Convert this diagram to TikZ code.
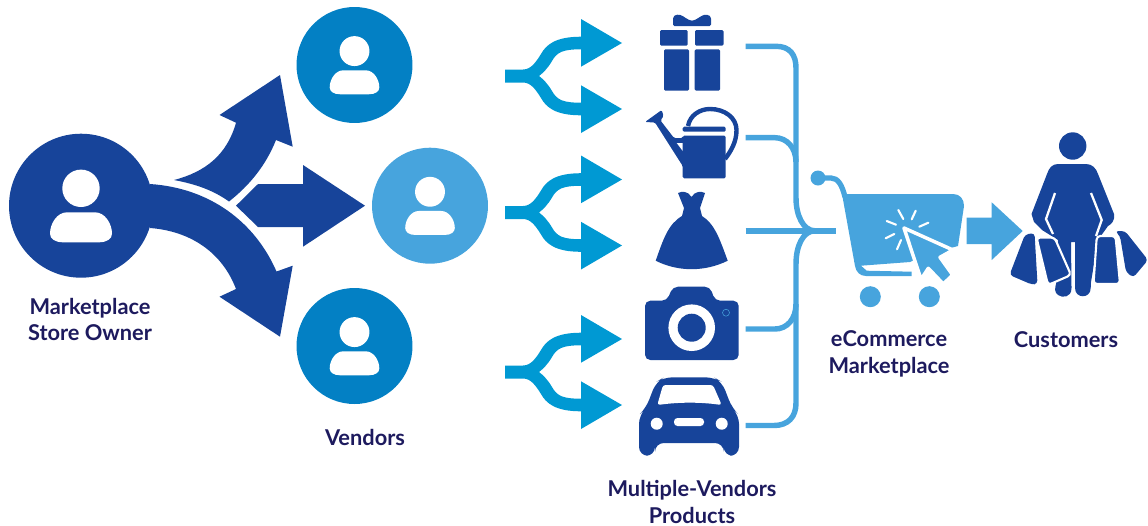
\documentclass[tikz,border=0pt]{standalone}
\usepackage{fontspec}
\setmainfont{Lato}[BoldFont=* Bold]
\usepackage{tikz}
\definecolor{ownerblue}{HTML}{17449A}
\definecolor{vendorblue}{HTML}{0380C4}
\definecolor{skyblue}{HTML}{47A4DD}
\definecolor{forkblue}{HTML}{0099D3}
\definecolor{labelblue}{HTML}{1D1A5E}
\begin{document}
\begin{tikzpicture}[x=0.02cm,y=-0.02cm,
	owner/.style={circle, fill=ownerblue, inner sep=0pt, minimum size=2.88cm},
	vendor/.style={circle, fill=vendorblue, inner sep=0pt, minimum size=2.32cm},
	label/.style={text=labelblue, font=\bfseries\fontsize{12.4}{15.3}\selectfont, align=center, inner sep=0pt},
	bracket/.style={draw=skyblue, line width=3.1pt},
	icon/.style={fill=ownerblue, rounded corners=0.8pt},
	person/.pic={
		\fill[white] (0,-17.4) circle (18.7);
		\fill[white] (-14,6.6) -- (14,6.6) .. controls (24,6.6) and (31,18) .. (31,28) .. controls (31,33) and (26,36.6) .. (18,36.6) -- (-18,36.6) .. controls (-26,36.6) and (-31,33) .. (-31,28) .. controls (-31,18) and (-24,6.6) .. (-14,6.6) -- cycle;
	},
	fork/.pic={
		\fill[forkblue] (0,-6.5) -- (18,-6.5) .. controls (26,-6.5) and (31,-14) .. (36,-22) .. controls (41,-31) and (50,-39.3) .. (76,-39.3) -- (76,-57) -- (117,-33) -- (76,-9.3) -- (76,-26.7) .. controls (58,-26.7) and (52,-24) .. (47,-15) .. controls (43,-8) and (38,-3) .. (34,0) .. controls (38,3) and (43,8) .. (47,15) .. controls (52,24) and (58,26.7) .. (76,26.7) -- (76,9.3) -- (117,33) -- (76,57) -- (76,39.3) .. controls (50,39.3) and (41,31) .. (36,22) .. controls (31,14) and (26,6.5) .. (18,6.5) -- (0,6.5) -- cycle;
	}]
	\useasboundingbox (0,0) rectangle (1148,525);

	\node (o) at (81,205.7) [owner] {};
	\node (v1) at (354.5,65) [vendor] {};
	\node (v2) at (430,205.7) [vendor, fill=skyblue] {};
	\node (v3) at (354.5,346) [vendor] {};
	\pic at (81,205.7) {person};
	\pic[scale=0.8] at (354.5,65) {person};
	\pic[scale=0.8] at (430,205.7) {person};
	\pic[scale=0.8] at (354.5,346) {person};

	\fill[ownerblue] (150,184) .. controls (210,188) and (255,222) .. (276.5,271.5) -- (292.7,265.7) -- (280,336.7) -- (219.5,296.7) -- (236,289) .. controls (222,252) and (190,231) .. (150,228) -- cycle;
	\fill[ownerblue] (174,180) .. controls (205,172) and (227,155) .. (236,122.7) -- (219.5,115) -- (280,75) -- (292.7,146.7) -- (276,140) .. controls (266,165) and (250,185) .. (229,201.5) .. controls (213,190) and (195,184) .. (174,180) -- cycle;
	\fill[ownerblue] (236,205.7) -- (258,184) -- (303,184) -- (303,165) -- (365,205.7) -- (303,246.7) -- (303,227) -- (258,227) -- cycle;

	\pic at (505,76) {fork};
	\pic at (505,212.5) {fork};
	\pic at (505,372) {fork};

	\fill[icon] (673,19) .. controls (674,14) and (680,14) .. (684,17) -- (690,20.5) -- (694,20.5) -- (700,17) .. controls (704,14) and (711,14) .. (711,20) -- (711,26) -- (673,26) -- cycle;
	\fill[icon] (660,30) -- (687.7,30) -- (687.7,45.7) -- (660,45.7) -- cycle;
	\fill[icon] (695,30) -- (723.5,30) -- (723.5,45.7) -- (695,45.7) -- cycle;
	\fill[icon] (664,49.3) -- (689,49.3) -- (689,90.7) -- (664,90.7) -- cycle;
	\fill[icon] (694.7,49.3) -- (720,49.3) -- (720,90.7) -- (694.7,90.7) -- cycle;

	\fill[icon] (682.7,135.7) -- (725.7,135.7) -- (725.7,178.3) -- (682.7,178.3) -- (682.7,166) -- (655,122.5) -- (645,122) -- (661.7,110) -- (663.5,116) -- (660.5,120.5) -- (674,138) -- (682.7,138) -- cycle;
	\fill[white] (676.7,143) -- (682.7,143) -- (682.7,151) -- cycle;
	\fill[icon] (682.7,126.7) -- (725.7,126.7) -- (725.7,131.7) -- (682.7,131.7) -- cycle;
	\draw[ownerblue, line width=2.5pt] (688,126) .. controls (690,115) and (700,109) .. (710,109) .. controls (725,109) and (736.5,118) .. (736.5,130) .. controls (736.5,142) and (731,151) .. (725,159);

	\fill[ownerblue] (678,193) .. controls (682,191) and (688,191) .. (691.5,197) .. controls (695,191) and (701,191) .. (705,193) -- (700,208) -- (702,216) .. controls (715,224) and (720,240) .. (727.7,260.7) .. controls (705,272) and (678,272) .. (655.7,260.7) .. controls (663,240) and (668,224) .. (682,216) -- (684,208) -- cycle;

	\fill[ownerblue, rounded corners=3pt] (645,300.7) -- (667,300.7) -- (672.7,286.7) -- (710,286.7) -- (715,300.7) -- (738.7,300.7) -- (738.7,360) -- (645,360) -- cycle;
	\fill[white] (691.7,327.7) circle (23.3);
	\fill[ownerblue] (691.7,327.7) circle (14);
	\draw[skyblue, line width=0.3pt] (726,312.7) circle (3.5);

	\fill[ownerblue, rounded corners=5pt] (639,455.7) -- (639,415) -- (646,408) -- (656,382) -- (664,377.3) -- (714,377.3) -- (722,382) -- (732,408) -- (739,415) -- (739,455.7) -- (723.7,455.7) -- (723.7,443) -- (655,443) -- (655,455.7) -- cycle;
	\fill[white, rounded corners=1.5pt] (663,385) -- (713,385) -- (721.7,405) .. controls (700,402) and (680,402) .. (657.3,405) -- cycle;
	\fill[white] (656.7,423.7) circle (6);
	\fill[white] (721.7,423.7) circle (6);
	\fill[white, rounded corners=2pt] (674,418) -- (704,418) -- (704,426) -- (674,426) -- cycle;

	\coordinate (g) at (745.7,46.3);
	\coordinate (w) at (745.7,137.7);
	\coordinate (d) at (745.7,230.8);
	\coordinate (c) at (745.7,329);
	\coordinate (a) at (745.7,425.5);
	\coordinate (m) at (836,230.8);
	\draw[bracket] (g) -- (776,46.3) .. controls (790,46.3) and (796,55) .. (796,68) -- (796,198) .. controls (796,215) and (803,230.8) .. (815,230.8);
	\draw[bracket] (w) -- (775,137.7) .. controls (787,137.7) and (796,148) .. (796,162);
	\draw[bracket] (d) -- (m);
	\draw[bracket] (815,230.8) .. controls (803,230.8) and (796,246) .. (796,264) -- (796,403) .. controls (796,417) and (788,425.5) .. (774,425.5) -- (a);
	\draw[bracket] (c) -- (775,329) .. controls (787,329) and (796,319) .. (796,304);

	\fill[skyblue] (818,178) circle (7.5);
	\draw[skyblue, line width=3pt] (818,178) -- (831,178) .. controls (838,178) and (842,185) .. (845,197);
	\fill[skyblue] (842,194) -- (953,194) .. controls (960,194) and (964,199) .. (964,206) -- (958,246) -- (925,255) -- (910,262) -- (861,265.7) -- (866.7,270.7) -- (911.7,271.7) -- (911.7,276) -- (866,276) .. controls (860,276) and (856,272) .. (855,266) -- cycle;
	\fill[skyblue] (870.3,296.7) circle (10.5);
	\fill[skyblue] (929.3,296.7) circle (10.5);
	\draw[white, line width=1.2pt, line cap=round] (898.3,210) -- (903.3,219);
	\draw[white, line width=1.2pt, line cap=round] (915.7,210.7) -- (911.7,219.3);
	\draw[white, line width=1.2pt, line cap=round] (928.3,222.7) -- (919.3,226.7);
	\draw[white, line width=1.2pt, line cap=round] (886.7,221) -- (896,224.7);
	\draw[white, line width=1.2pt, line cap=round] (885.7,238.3) -- (894.3,234);
	\draw[white, line width=1.2pt, line cap=round] (901,240) -- (897,249.3);
	\fill[skyblue, draw=white, line width=2pt, line join=round] (904,228) -- (953,250) -- (940,257.3) -- (952.7,275) -- (943.3,284) -- (928.3,268.3) -- (921,279.3) -- cycle;

	\fill[skyblue] (966.7,217.7) -- (991.7,217.7) -- (991.7,202.3) -- (1022.7,231) -- (991.7,260) -- (991.7,244) -- (966.7,244) -- cycle;

	\fill[ownerblue] (1072.7,146) circle (13.7);
	\fill[ownerblue] (1058,164) -- (1086,164) .. controls (1092,164) and (1096,168) .. (1098,174) -- (1114,214) .. controls (1115,220) and (1112,224) .. (1108,226) -- (1098,240) -- (1091,282) -- (1090.7,288) .. controls (1090.7,299) and (1075,299) .. (1075,288) -- (1075,242) -- (1071,242) -- (1071.5,288) .. controls (1071.5,298) and (1062,298) .. (1058,295) .. controls (1054,292) and (1055,288) .. (1056,284) -- (1058,240) -- (1042,230) -- (1034,222) -- (1031.5,214) -- (1047,174) .. controls (1049,168) and (1052,164) .. (1058,164) -- cycle;
	\draw[white, line width=1.3pt] (1055,193) -- (1046,219) -- (1053,234);
	\draw[white, line width=1.3pt] (1091,193) -- (1101.7,220) -- (1096,236);
	\fill[ownerblue, rounded corners=2pt] (1025,234.5) -- (1034.5,233) -- (1037.5,284) -- (1031.7,284.5) -- (1009.5,275) -- cycle;
	\fill[ownerblue, draw=white, line width=1.2pt, rounded corners=2pt] (1036.5,237.5) -- (1054.5,237.5) -- (1071,275) -- (1048,285) -- cycle;
	\fill[ownerblue, draw=white, line width=1.2pt, rounded corners=2pt] (1096.8,236) -- (1115.5,236) -- (1120,284) -- (1093.5,284) -- cycle;
	\fill[ownerblue, rounded corners=2pt] (1115,231) -- (1125,231) -- (1148,260) -- (1133.3,277.5) -- (1126,272) -- (1120,236) -- cycle;

	\node (l1) at (90,319.5) [label] {Marketplace\\Store Owner};
	\node (l2) at (365,437) [label] {Vendors};
	\node (l3) at (692,496.5) [label, anchor=base] {Multiple-Vendors};
	\node (l3b) at (692,523) [label, anchor=base] {Products};
	\node (l4) at (889,354) [label] {eCommerce\\Marketplace};
	\node (l5) at (1066,340) [label] {Customers};
\end{tikzpicture}
\end{document}
